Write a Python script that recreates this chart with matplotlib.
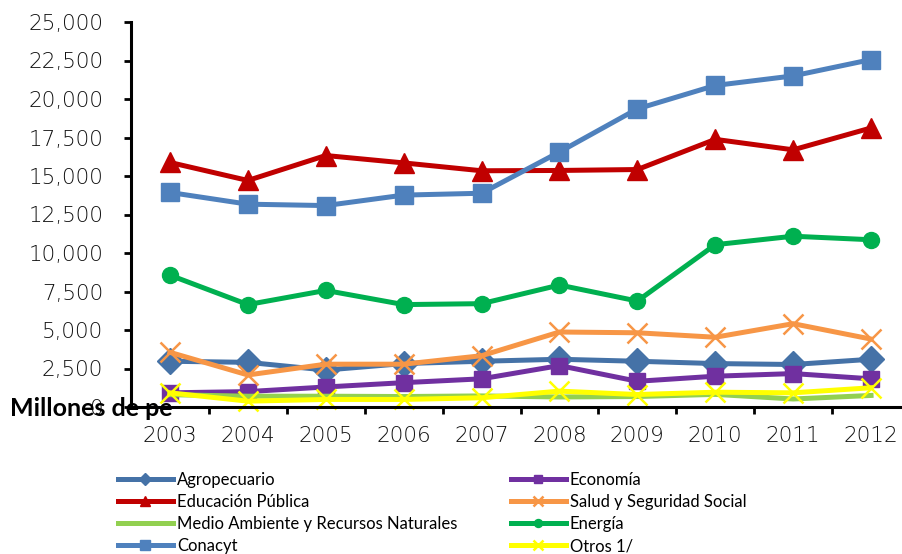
import matplotlib
matplotlib.use("Agg")
import matplotlib.pyplot as plt
from matplotlib.ticker import FixedLocator, FuncFormatter

years = ["2003", "2004", "2005", "2006", "2007", "2008", "2009", "2010", "2011", "2012"]

agropecuario = [2970, 2900, 2400, 2820, 2970, 3100, 2970, 2820, 2760, 3100]
economia = [920, 1000, 1300, 1580, 1830, 2690, 1670, 2000, 2170, 1830]
educacion = [15880, 14710, 16330, 15850, 15340, 15360, 15420, 17380, 16700, 18120]
salud = [3550, 2080, 2780, 2780, 3330, 4870, 4820, 4530, 5410, 4410]
medio_ambiente = [800, 700, 700, 680, 720, 650, 680, 820, 520, 750]
energia = [8560, 6650, 7570, 6650, 6710, 7920, 6880, 10540, 11090, 10860]
conacyt = [13930, 13170, 13080, 13760, 13880, 16560, 19360, 20880, 21500, 22560]
otros = [920, 380, 490, 490, 600, 1030, 810, 960, 920, 1250]

yticks = [0, 2500, 5000, 7500, 10000, 12500, 15000, 17500, 20000, 22500, 25000]

series = [
    ("Agropecuario", agropecuario, "#4572A7", "D", 13),
    ("Economía", economia, "#7030A0", "s", 12),
    ("Educación Pública", educacion, "#C00000", "^", 14),
    ("Salud y Seguridad Social", salud, "#F79646", "x", 14),
    ("Medio Ambiente y Recursos Naturales", medio_ambiente, "#92D050", None, 0),
    ("Energía", energia, "#00B050", "o", 11.5),
    ("Conacyt", conacyt, "#4F81BD", "s", 13.5),
    ("Otros 1/", otros, "#FFFF00", "x", 14),
]

fig = plt.figure(figsize=(9.02, 5.54), dpi=100)
ax = fig.add_axes([131 / 902, 147 / 554, 779 / 902, 385 / 554])

xs = list(range(len(years)))
handles = {}
for name, values, color, marker, ms in series:
    kw = dict(color=color, linewidth=3.6, label=name, clip_on=False)
    if marker == "x":
        kw.update(marker="x", markersize=ms, markeredgewidth=1.8)
    elif marker:
        kw.update(marker=marker, markersize=ms)
    (line,) = ax.plot(xs, values, **kw)
    handles[name] = line

ax.set_xlim(-0.5, 9.5)
ax.set_ylim(0, 25000)
ax.xaxis.set_major_locator(FixedLocator(xs))
ax.xaxis.set_minor_locator(FixedLocator([x + 0.5 for x in xs]))
ax.set_xticklabels(years)
ax.tick_params(axis="x", which="major", length=0, pad=14)
ax.tick_params(axis="x", which="minor", length=5, width=2, direction="out")
ax.set_yticks(yticks)
ax.yaxis.set_major_formatter(FuncFormatter(lambda v, p: f"{int(v):,}"))
ax.tick_params(axis="y", length=5, width=2, direction="out", pad=15)
for lbl in ax.get_xticklabels() + ax.get_yticklabels():
    lbl.set_fontfamily("DejaVu Sans")
    lbl.set_fontweight("light")
    lbl.set_fontsize(15.5)
    lbl.set_color("#101010")

for side in ("top", "right"):
    ax.spines[side].set_visible(False)
for side in ("left", "bottom"):
    ax.spines[side].set_linewidth(2.2)

fig.text(10 / 902, 1 - 408 / 554, "Millones de pe", fontsize=18, fontweight="bold",
         family="Lato", va="center", ha="left", zorder=10)

order = ["Agropecuario", "Educación Pública", "Medio Ambiente y Recursos Naturales", "Conacyt",
         "Economía", "Salud y Seguridad Social", "Energía", "Otros 1/"]
leg = fig.legend([handles[n] for n in order], order, ncol=2, frameon=False,
                 loc="upper left", bbox_to_anchor=(106 / 902, 1 - 460 / 554),
                 prop={"family": "Lato", "size": 12},
                 handlelength=3.3, handletextpad=0.25, columnspacing=3.2,
                 labelspacing=0.37, markerscale=0.5, borderpad=0.2)

fig.savefig("out.png", dpi=100)
